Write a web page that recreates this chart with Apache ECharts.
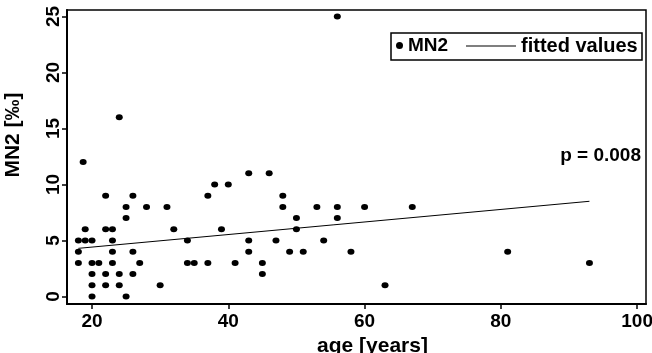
<!DOCTYPE html>
<html><head><meta charset="utf-8">
<script src="https://cdn.jsdelivr.net/npm/echarts@6/dist/echarts.min.js"></script>
<style>html,body{margin:0;padding:0;background:#fff}#c{width:652px;height:353px}</style>
</head><body><div id="c"></div>
<script>
var ages = [18.7,22,26,43,37,38,40,25,28,31,25,19,22,23,32,39,
  18,19,20,23,34,43,
  18,23,26,43,
  18,20,21,23,27,34,35,37,41,45,
  20,22,24,26,45,
  20,22,24,30,
  20,25,
  24,56,
  46,48,48,53,56,60,67,50,56,50,47,54,49,51,58,63,81,93];
var mn2 = [12,9,9,11,9,10,10,8,8,8,7,6,6,6,6,6,
  5,5,5,5,5,5,
  4,4,4,4,
  3,3,3,3,3,3,3,3,3,3,
  2,2,2,2,2,
  1,1,1,1,
  0,0,
  16,25,
  11,9,8,8,8,8,8,7,7,6,5,5,4,4,4,1,4,3];
var fitAge = [18, 93];
var fitVal = [4.3, 8.5];
var xTicks = [20, 40, 60, 80, 100];
var yTicks = [0, 5, 10, 15, 20, 25];

var FONT = '"Liberation Sans", Arial, sans-serif';
var chart = echarts.init(document.getElementById('c'), null, {renderer: 'canvas'});
var pts = ages.map(function (a, i) { return [a, mn2[i]]; });
var fit = fitAge.map(function (a, i) { return [a, fitVal[i]]; });
chart.setOption({
  animation: false,
  backgroundColor: '#fff',
  grid: {left: 67, top: 10, right: 6, bottom: 49, show: true, borderColor: '#000', borderWidth: 1.5,
         containLabel: false, outerBoundsMode: 'none'},
  xAxis: {
    type: 'value', min: 16.33, max: 101.3,
    name: 'age [years]', nameLocation: 'middle', nameGap: 29,
    nameTextStyle: {fontFamily: FONT, fontWeight: 'bold', fontSize: 21, color: '#000', padding: [0, 0, 0, 32]},
    axisLine: {show: true, onZero: false, lineStyle: {color: '#000', width: 2}},
    axisTick: {show: true, length: 5, customValues: xTicks, lineStyle: {color: '#000', width: 1.5}},
    axisLabel: {customValues: xTicks, margin: 8, hideOverlap: false, fontFamily: FONT, fontWeight: 'bold', fontSize: 19, color: '#000'},
    splitLine: {show: false}
  },
  yAxis: {
    type: 'value', min: -0.67, max: 25.58,
    axisLine: {show: true, onZero: false, lineStyle: {color: '#000', width: 2}},
    axisTick: {show: true, length: 5, customValues: yTicks, lineStyle: {color: '#000', width: 1.5}},
    axisLabel: {customValues: yTicks, rotate: 90, margin: 4, fontFamily: FONT, fontWeight: 'bold', fontSize: 19, color: '#000'},
    splitLine: {show: false}
  },
  legend: [
    {data: ['MN2'], left: 396, top: 36, padding: 0, itemWidth: 7, itemHeight: 7, icon: 'circle',
     textStyle: {fontFamily: FONT, fontWeight: 'bold', fontSize: 19, color: '#000'}},
    {data: ['fitted values'], left: 466, top: 36, padding: 0, itemWidth: 50, itemHeight: 1,
     icon: 'path://M0,0H50V1H0Z',
     textStyle: {fontFamily: FONT, fontWeight: 'bold', fontSize: 20, color: '#000'}}
  ],
  graphic: [
    {type: 'rect', shape: {x: 391, y: 33, width: 251, height: 27}, style: {fill: 'none', stroke: '#000', lineWidth: 1.5}, z: 10},
    {type: 'text', x: 641, y: 156, style: {text: 'p = 0.008', font: 'bold 19px ' + FONT, fill: '#000', textAlign: 'right', textVerticalAlign: 'middle'}},
    {type: 'text', x: 13, y: 135, rotation: Math.PI / 2, style: {text: 'MN2 [‰]', font: 'bold 21px ' + FONT, fill: '#000', textAlign: 'center', textVerticalAlign: 'middle'}}
  ],
  series: [
    {name: 'MN2', type: 'scatter', data: pts, symbol: 'circle', symbolSize: [7, 6], itemStyle: {color: '#000', opacity: 1}},
    {name: 'fitted values', type: 'line', data: fit, symbol: 'none', lineStyle: {color: '#000', width: 1}, itemStyle: {color: '#000'}}
  ]
});
</script></body></html>
